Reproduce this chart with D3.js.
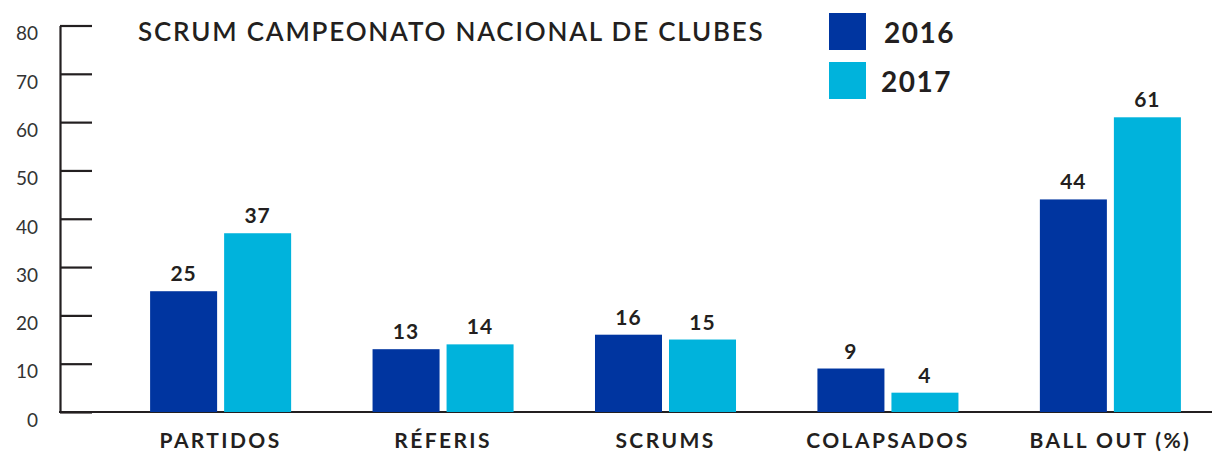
<!DOCTYPE html>
<html>
<head>
<meta charset="utf-8">
<script src="https://cdn.jsdelivr.net/npm/d3@7"></script>
<style>
  body { margin: 0; background: #fff; }
  svg text { font-family: Lato, "Noto Sans", sans-serif; fill: #231f20; }
</style>
</head>
<body>
<div id="chart"></div>
<script>
const categories = ["PARTIDOS", "RÉFERIS", "SCRUMS", "COLAPSADOS", "BALL OUT (%)"];
const years = ["2016", "2017"];
const values2016 = [25, 13, 16, 9, 44];
const values2017 = [37, 14, 15, 4, 61];
const yTicks = [0, 10, 20, 30, 40, 50, 60, 70, 80];
const title = "SCRUM CAMPEONATO NACIONAL DE CLUBES";

const colors = {"2016": "#0035a0", "2017": "#00b3dc"};
const width = 1212, height = 452;

// one row per category
const data = categories.map(function(c, i) {
  return {cat: c, "2016": values2016[i], "2017": values2017[i]};
});

const svg = d3.select("#chart").append("svg")
  .attr("width", width)
  .attr("height", height);

const yScale = d3.scaleLinear().domain([0, 80]).range([412, 25.5]);

const x0 = d3.scaleBand()
  .domain(categories)
  .range([109.4, 1221.6])
  .paddingInner(0.366)
  .paddingOuter(0.183);

const x1 = d3.scaleBand()
  .domain(years)
  .range([0, x0.bandwidth()])
  .paddingInner(0.0946);

// y axis, ticks pointing right
const yAxis = svg.append("g")
  .attr("transform", "translate(60,0)")
  .call(d3.axisLeft(yScale).tickValues(yTicks).tickSizeInner(-32).tickSizeOuter(0).tickPadding(22));
yAxis.select(".domain").attr("stroke", "#231f20").attr("stroke-width", 2.2);
yAxis.selectAll(".tick line").attr("stroke", "#231f20").attr("stroke-width", 2.2);
yAxis.selectAll(".tick text")
  .attr("dy", "0.75em")
  .style("font-size", "19px")
  .style("font-family", "Lato, sans-serif")
  .style("fill", "#333");

// baseline across the whole width
svg.append("line")
  .attr("x1", 59).attr("x2", width)
  .attr("y1", yScale(0)).attr("y2", yScale(0))
  .attr("stroke", "#231f20").attr("stroke-width", 2.2);

const groups = svg.selectAll("g.group").data(data).enter()
  .append("g")
  .attr("class", "group")
  .attr("transform", function(d) { return "translate(" + x0(d.cat) + ",0)"; });

groups.selectAll("rect").data(function(d) {
    return years.map(function(y) { return {year: y, value: d[y]}; });
  }).enter().append("rect")
  .attr("x", function(d) { return x1(d.year); })
  .attr("y", function(d) { return yScale(d.value); })
  .attr("width", x1.bandwidth())
  .attr("height", function(d) { return yScale(0) - yScale(d.value); })
  .attr("fill", function(d) { return colors[d.year]; });

groups.selectAll("text.val").data(function(d) {
    return years.map(function(y) { return {year: y, value: d[y]}; });
  }).enter().append("text")
  .attr("class", "val")
  .attr("x", function(d) { return x1(d.year) + x1.bandwidth() / 2; })
  .attr("y", function(d) { return yScale(d.value) - 10; })
  .attr("text-anchor", "middle")
  .style("font-size", "21px")
  .style("font-weight", "700")
  .style("letter-spacing", "1px")
  .text(function(d) { return d.value; });

// category labels
svg.selectAll("text.cat").data(categories).enter().append("text")
  .attr("class", "cat")
  .attr("x", function(d) { return x0(d) + x0.bandwidth() / 2; })
  .attr("y", 448)
  .attr("text-anchor", "middle")
  .style("font-size", "21px")
  .style("font-weight", "700")
  .style("letter-spacing", "2.4px")
  .text(function(d) { return d; });

// title
svg.append("text")
  .attr("x", 138).attr("y", 41)
  .style("font-size", "26px")
  .style("font-weight", "600")
  .style("letter-spacing", "1.8px")
  .text(title);

// legend
const legend = svg.selectAll("g.legend").data(years).enter().append("g")
  .attr("class", "legend")
  .attr("transform", function(d, i) { return "translate(829," + (13 + i * 49) + ")"; });
legend.append("rect")
  .attr("width", 37).attr("height", 37)
  .attr("fill", function(d) { return colors[d]; });
legend.append("text")
  .attr("x", function(d, i) { return i == 0 ? 55 : 52; })
  .attr("y", 30)
  .style("font-size", "28px")
  .style("font-weight", "700")
  .style("letter-spacing", "1.5px")
  .text(function(d) { return d; });
</script>
</body>
</html>
